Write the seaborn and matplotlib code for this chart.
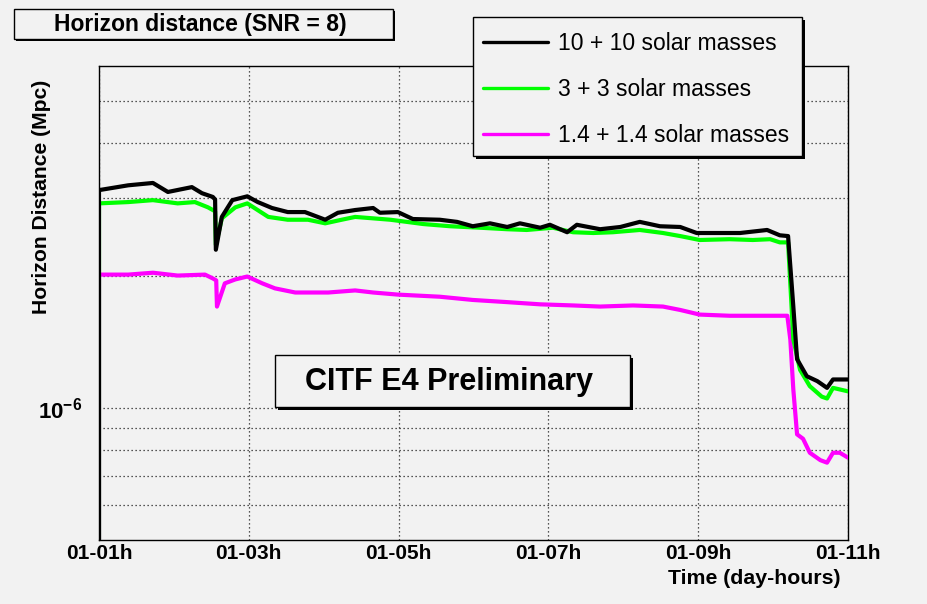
import numpy as np
import matplotlib
matplotlib.use("Agg")
import matplotlib.pyplot as plt
import seaborn as sns
from matplotlib.patches import Rectangle
from matplotlib.lines import Line2D
from matplotlib.ticker import FixedLocator, FixedFormatter, NullFormatter

# ---------------- data ----------------
hour_ticks = [1, 3, 5, 7, 9, 11]
hour_labels = ['01-01h', '01-03h', '01-05h', '01-07h', '01-09h', '01-11h']
hour_minor = [1.5, 2, 2.5, 3.5, 4, 4.5, 5.5, 6, 6.5, 7.5, 8, 8.5, 9.5, 10, 10.5]
y_major = [1e-6]
y_major_labels = [r'$\mathbf{10^{-6}}$']
y_minor = [6e-7, 7e-7, 8e-7, 9e-7, 2e-6, 3e-6, 4e-6, 5e-6]

series_names = ['10 + 10 solar masses', '3 + 3 solar masses', '1.4 + 1.4 solar masses']

t_10 = [1.0, 1.0, 1.39, 1.72, 1.92, 2.24, 2.375, 2.52, 2.55, 2.56, 2.64, 2.78,
        2.98, 3.12, 3.31, 3.52, 3.75, 4.02, 4.19, 4.42, 4.66, 4.75, 4.99, 5.19,
        5.55, 5.78, 5.99, 6.22, 6.45, 6.62, 6.89, 7.02, 7.25, 7.38, 7.69, 7.96,
        8.22, 8.49, 8.76, 8.98, 9.29, 9.56, 9.92, 10.09, 10.20, 10.27, 10.32,
        10.45, 10.59, 10.72, 10.80, 11.0]
d_10 = [0.1, 3.13, 3.21, 3.25, 3.10, 3.18, 3.08, 3.02, 2.98, 2.29, 2.72, 2.97,
        3.03, 2.94, 2.85, 2.79, 2.79, 2.68, 2.78, 2.82, 2.85, 2.78, 2.79, 2.69,
        2.68, 2.65, 2.59, 2.63, 2.58, 2.63, 2.57, 2.61, 2.51, 2.61, 2.55, 2.58,
        2.65, 2.59, 2.58, 2.50, 2.50, 2.50, 2.54, 2.47, 2.46, 1.70, 1.29,
        1.18, 1.15, 1.11, 1.16, 1.16]  # units of 1e-6 Mpc

t_3 = [1.0, 1.0, 1.39, 1.72, 2.05, 2.28, 2.455, 2.52, 2.55, 2.56, 2.64, 2.82,
       2.98, 3.26, 3.52, 3.79, 4.02, 4.24, 4.42, 4.89, 5.11, 5.33, 5.69, 6.09,
       6.45, 6.71, 7.06, 7.33, 7.60, 7.86, 8.22, 8.53, 8.76, 9.02, 9.42, 9.73,
       9.96, 10.09, 10.20, 10.27, 10.36, 10.49, 10.65, 10.72, 10.80, 11.0]
d_3 = [0.1, 2.92, 2.94, 2.97, 2.92, 2.94, 2.86, 2.82, 2.80, 2.35, 2.70, 2.86,
       2.92, 2.72, 2.68, 2.68, 2.63, 2.68, 2.72, 2.68, 2.65, 2.62, 2.59, 2.57,
       2.55, 2.54, 2.57, 2.51, 2.50, 2.51, 2.54, 2.50, 2.46, 2.41, 2.42, 2.41,
       2.42, 2.38, 2.38, 1.43, 1.22, 1.12, 1.06, 1.05, 1.11, 1.09]

t_14 = [1.0, 1.0, 1.39, 1.72, 2.05, 2.415, 2.52, 2.565, 2.575, 2.68, 2.82, 2.98,
        3.18, 3.35, 3.62, 4.06, 4.42, 4.66, 4.99, 5.55, 5.99, 6.45, 6.89, 7.33,
        7.69, 8.13, 8.53, 8.76, 9.02, 9.42, 9.87, 10.19, 10.23, 10.27, 10.32,
        10.40, 10.49, 10.63, 10.72, 10.80, 10.89, 11.0]
d_14 = [0.1, 2.01, 2.01, 2.03, 2.00, 2.01, 1.97, 1.95, 1.70, 1.92, 1.96, 1.99,
        1.92, 1.87, 1.83, 1.83, 1.85, 1.83, 1.81, 1.79, 1.76, 1.74, 1.72, 1.71,
        1.70, 1.71, 1.70, 1.67, 1.63, 1.62, 1.62, 1.62, 1.43, 1.10, 0.87,
        0.85, 0.79, 0.76, 0.75, 0.79, 0.79, 0.77]

colors = ['#000000', '#00ff00', '#ff00ff']
# ---------------------------------------

sns.set_theme(style='white')
plt.rcParams['font.family'] = ['Liberation Sans', 'DejaVu Sans']
plt.rcParams['mathtext.fontset'] = 'custom'
plt.rcParams['mathtext.rm'] = 'Liberation Sans'
plt.rcParams['mathtext.bf'] = 'Liberation Sans:bold'
plt.rcParams['mathtext.it'] = 'Liberation Sans:italic'
plt.rcParams['text.color'] = 'black'
plt.rcParams['axes.labelcolor'] = 'black'
plt.rcParams['xtick.color'] = 'black'
plt.rcParams['ytick.color'] = 'black'
plt.rcParams['legend.labelcolor'] = 'black'

BG = '#f2f2f2'
W, H = 927, 604


def fx(px):
    return px / W


def fy(py):
    return 1 - py / H


fig = plt.figure(figsize=(W / 100, H / 100), dpi=100, facecolor=BG)
ax = fig.add_axes([fx(99), fy(540), (848 - 99) / W, (540 - 66) / H])
ax.set_facecolor(BG)

# draw order: magenta, green, black on top
for t, d, c in [(t_14, d_14, colors[2]), (t_3, d_3, colors[1]), (t_10, d_10, colors[0])]:
    sns.lineplot(x=np.array(t), y=np.array(d) * 1e-6, estimator=None, sort=False,
                 color=c, linewidth=3.0, ax=ax, legend=False, zorder=3)

ax.set_yscale('log')
ax.set_xlim(1, 11)
ax.set_ylim(5e-7, 6e-6)

ax.xaxis.set_major_locator(FixedLocator(hour_ticks))
ax.xaxis.set_major_formatter(FixedFormatter(hour_labels))
ax.xaxis.set_minor_locator(FixedLocator(hour_minor))
ax.yaxis.set_major_locator(FixedLocator(y_major))
ax.yaxis.set_major_formatter(FixedFormatter(y_major_labels))
ax.yaxis.set_minor_locator(FixedLocator(y_minor))
ax.yaxis.set_minor_formatter(NullFormatter())

ax.tick_params(axis='both', which='both', direction='in', top=False, right=False,
               color='black', labelcolor='black', width=1.0)
ax.tick_params(axis='x', which='major', length=10, pad=3, labelsize=15)
ax.tick_params(axis='x', which='minor', length=5)
ax.tick_params(axis='y', which='both', length=8, pad=12, labelsize=16)
for lab in ax.get_xticklabels() + ax.get_yticklabels():
    lab.set_fontweight('bold')

grid_kw = dict(color='#222222', linestyle=(0, (1, 2.2)), linewidth=0.9)
ax.grid(axis='y', which='both', **grid_kw)
ax.grid(axis='x', which='major', **grid_kw)
ax.set_axisbelow(True)
ax.set_xlabel('')
ax.set_ylabel('')
for s in ax.spines.values():
    s.set_color('black')
    s.set_linewidth(1.0)
    s.set_visible(True)

# axis titles
fig.text(fx(42), fy(80), 'Horizon Distance (Mpc)', rotation=90, ha='center', va='top',
         fontsize=15.2, fontweight='bold', color='black')
fig.text(fx(840), fy(578), 'Time (day-hours)', ha='right', va='center',
         fontsize=15.3, fontweight='bold', color='black')


def shadow_box(x0, y0, x1, y1, off=3, z=4):
    sh = Rectangle((fx(x0 + off), fy(y1 + off)), (x1 - x0) / W, (y1 - y0) / H,
                   transform=fig.transFigure, facecolor='black', edgecolor='black',
                   linewidth=0, zorder=z)
    bx = Rectangle((fx(x0), fy(y1)), (x1 - x0) / W, (y1 - y0) / H,
                   transform=fig.transFigure, facecolor=BG, edgecolor='black',
                   linewidth=1.0, zorder=z + 0.1)
    fig.add_artist(sh)
    fig.add_artist(bx)


# title box
shadow_box(14, 9, 393, 39, off=2)
fig.text(fx(200), fy(25), 'Horizon distance (SNR = 8)', ha='center', va='center',
         fontsize=16.5, fontweight='bold', color='black', zorder=5)

# preliminary box
shadow_box(275, 355, 630, 407, off=3)
fig.text(fx(449), fy(382), 'CITF E4 Preliminary', ha='center', va='center',
         fontsize=22, fontweight='bold', color='black', zorder=5)

# legend (frame drawn as box, entries placed by legend)
shadow_box(473, 17, 802, 156, off=3, z=5)
handles = [Line2D([0], [0], color=c, linewidth=2.4) for c in colors]
leg = fig.legend(handles, series_names, loc='upper left',
                 bbox_to_anchor=(fx(473), fy(22)), bbox_transform=fig.transFigure,
                 frameon=False, fontsize=16.5, handlelength=2.84, handletextpad=0.44,
                 borderpad=0.45, labelspacing=1.0, borderaxespad=0)
for txt in leg.get_texts():
    txt.set_color('black')
leg.set_zorder(6)

fig.savefig('out.png', dpi=100, facecolor=BG)
